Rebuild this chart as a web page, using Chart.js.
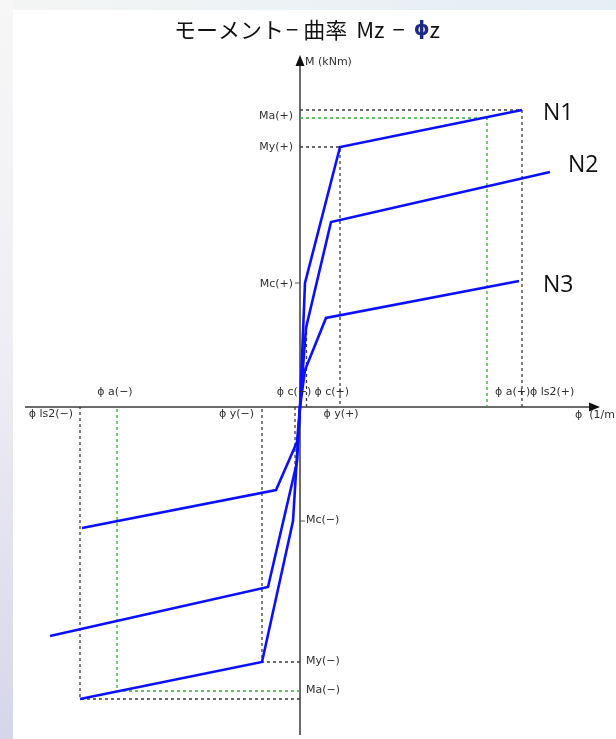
<!DOCTYPE html>
<html>
<head>
<meta charset="utf-8">
<script src="https://cdn.jsdelivr.net/npm/chart.js@4/dist/chart.umd.min.js"></script>
<style>
  html, body { margin: 0; padding: 0; background: #ffffff; overflow: hidden; }
  canvas { display: block; }
</style>
</head>
<body>
<canvas id="mphi" width="616" height="739"></canvas>
<script>
// Moment–curvature skeleton curves, curvature φ (×10⁻³ 1/m) against moment M (kNm)
const seriesNames = ['N1', 'N2', 'N3'];
const phiN1    = [-44.0, -7.6, -1.4, 0, 1.0, 8.0, 44.4];
const momentN1 = [-584, -510, -228, 0, 248, 520, 594];
const phiN2    = [-50.0, -6.4, -0.6, 0, 1.2, 6.2, 50.0];
const momentN2 = [-458, -360, -110, 0, 158, 370, 470];
const phiN3    = [-43.6, -4.8, -0.6, 0, 1.0, 5.2, 43.8];
const momentN3 = [-242, -166, -70, 0, 74, 178, 252];

// characteristic curvatures marked on the φ axis
const phiMarkNames  = ['ϕ ls2(−)', 'ϕ a(−)', 'ϕ y(−)', 'ϕ c(−)', 'ϕ c(+)', 'ϕ y(+)', 'ϕ a(+)', 'ϕ ls2(+)'];
const phiMarkValues = [-44.0, -36.6, -7.6, -1.0, 1.3, 8.0, 37.4, 44.4];

// characteristic moments marked on the M axis
const momentMarkNames  = ['Ma(+)', 'My(+)', 'Mc(+)', 'Mc(−)', 'My(−)', 'Ma(−)'];
const momentMarkValues = [578, 520, 248, -228, -510, -568];

// limit-state guide lines (ultimate: black, allowable: green)
const ultimatePosPhi = [0, 44.4, 44.4];   const ultimatePosM = [594, 594, 0];
const yieldPosPhi    = [0, 8.0, 8.0];     const yieldPosM    = [520, 520, 0];
const crackPosPhi    = [1.3, 1.3];        const crackPosM    = [0, 170];
const crackNegPhi    = [-1.0, -1.0];      const crackNegM    = [0, -126];
const yieldNegPhi    = [0, -7.6, -7.6];   const yieldNegM    = [-510, -510, 0];
const ultimateNegPhi = [0, -44.0, -44.0]; const ultimateNegM = [-584, -584, 0];
const allowPosPhi    = [0, 37.4, 37.4];   const allowPosM    = [578, 578, 0];
const allowNegPhi    = [0, -36.6, -36.6]; const allowNegM    = [-568, -568, 0];

const pairs = (xs, ys) => xs.map((x, i) => ({ x: x, y: ys[i] }));

const curveStyle = { showLine: true, pointRadius: 0, borderColor: '#0a10ff', borderWidth: 2.6, fill: false, tension: 0 };
const blackGuide = { showLine: true, pointRadius: 0, borderColor: '#3a3a3a', borderWidth: 1.3, borderDash: [3, 3], fill: false };
const greenGuide = { showLine: true, pointRadius: 0, borderColor: '#33aa33', borderWidth: 1.3, borderDash: [3, 3], fill: false };

const datasets = [
  Object.assign({ label: seriesNames[0], data: pairs(phiN1, momentN1) }, curveStyle),
  Object.assign({ label: seriesNames[1], data: pairs(phiN2, momentN2) }, curveStyle),
  Object.assign({ label: seriesNames[2], data: pairs(phiN3, momentN3) }, curveStyle),
  Object.assign({ label: 'ultimate+', data: pairs(ultimatePosPhi, ultimatePosM) }, blackGuide),
  Object.assign({ label: 'yield+', data: pairs(yieldPosPhi, yieldPosM) }, blackGuide),
  Object.assign({ label: 'crack+', data: pairs(crackPosPhi, crackPosM) }, blackGuide),
  Object.assign({ label: 'crack-', data: pairs(crackNegPhi, crackNegM) }, blackGuide),
  Object.assign({ label: 'yield-', data: pairs(yieldNegPhi, yieldNegM) }, blackGuide),
  Object.assign({ label: 'ultimate-', data: pairs(ultimateNegPhi, ultimateNegM) }, blackGuide),
  Object.assign({ label: 'allow+', data: pairs(allowPosPhi, allowPosM) }, greenGuide),
  Object.assign({ label: 'allow-', data: pairs(allowNegPhi, allowNegM) }, greenGuide)
];

const SMALL = '11px "DejaVu Sans"';
const TITLE_FONT = '22px "Noto Sans CJK JP"';
const PHI_FONT = 'bold 20px "DejaVu Sans"';

// placement of each φ mark label: side of the axis, alignment, horizontal nudge
const phiMarkPlacement = [
  { side: 'below', align: 'right',  dx: -7 },
  { side: 'above', align: 'center', dx: -2 },
  { side: 'below', align: 'right',  dx: -8 },
  { side: 'above', align: 'center', dx: -1 },
  { side: 'above', align: 'left',   dx: 8 },
  { side: 'below', align: 'center', dx: 1 },
  { side: 'above', align: 'left',   dx: 8 },
  { side: 'above', align: 'left',   dx: 8 }
];
// vertical nudges of the M mark labels
const momentMarkDy = [-2, 0, 1, -1, -1, -1];

// curve name labels offset from each curve's last point
const nameOffsets = [{ dx: 21, dy: 3 }, { dx: 18, dy: -7 }, { dx: 24, dy: 4 }];
const nameEnds = [
  { x: phiN1[phiN1.length - 1], y: momentN1[momentN1.length - 1] },
  { x: phiN2[phiN2.length - 1], y: momentN2[momentN2.length - 1] },
  { x: phiN3[phiN3.length - 1], y: momentN3[momentN3.length - 1] }
];

function text(ctx, str, x, y, align, font, color) {
  ctx.font = font;
  ctx.fillStyle = color || '#303030';
  ctx.textAlign = align;
  ctx.textBaseline = 'middle';
  ctx.fillText(str, x, y);
}

const diagram = {
  id: 'diagram',
  beforeDraw(chart) {
    const ctx = chart.ctx;
    const W = chart.width, H = chart.height;
    ctx.save();
    // slide backdrop behind the white drawing panel
    const top = ctx.createLinearGradient(0, 0, W, 0);
    top.addColorStop(0, '#f4f5f4');
    top.addColorStop(1, '#e4eef5');
    ctx.fillStyle = top;
    ctx.fillRect(0, 0, W, 10);
    const left = ctx.createLinearGradient(0, 0, 0, H);
    left.addColorStop(0, '#f7f7f7');
    left.addColorStop(0.5, '#eeedf3');
    left.addColorStop(1, '#d6d6ea');
    ctx.fillStyle = left;
    ctx.fillRect(0, 0, 13, H);
    ctx.fillStyle = '#ffffff';
    ctx.fillRect(13, 10, W - 13, H - 10);
    ctx.restore();
  },
  beforeDatasetsDraw(chart) {
    const ctx = chart.ctx;
    const xs = chart.scales.x, ys = chart.scales.y;
    const ox = xs.getPixelForValue(0), oy = ys.getPixelForValue(0);
    const xFrom = xs.getPixelForValue(-55), xTo = xs.getPixelForValue(60);
    const yTop = ys.getPixelForValue(704), yBottom = ys.getPixelForValue(-656);
    ctx.save();
    ctx.strokeStyle = '#6a6a6a';
    ctx.lineWidth = 2;
    ctx.beginPath();
    ctx.moveTo(xFrom, oy); ctx.lineTo(xTo - 8, oy);
    ctx.moveTo(ox, yBottom); ctx.lineTo(ox, yTop + 9);
    ctx.stroke();
    ctx.fillStyle = '#111111';
    ctx.beginPath();
    ctx.moveTo(xTo, oy); ctx.lineTo(xTo - 11, oy - 4.5); ctx.lineTo(xTo - 11, oy + 4.5); ctx.closePath();
    ctx.fill();
    ctx.beginPath();
    ctx.moveTo(ox, yTop); ctx.lineTo(ox - 4.5, yTop + 11); ctx.lineTo(ox + 4.5, yTop + 11); ctx.closePath();
    ctx.fill();
    // small ticks at the cracking moments
    ctx.strokeStyle = '#555555';
    ctx.lineWidth = 1;
    ctx.beginPath();
    const mcp = ys.getPixelForValue(momentMarkValues[2]);
    ctx.moveTo(ox - 5, mcp); ctx.lineTo(ox, mcp);
    const mcn = ys.getPixelForValue(momentMarkValues[3]);
    ctx.moveTo(ox, mcn); ctx.lineTo(ox + 5, mcn);
    ctx.stroke();
    ctx.restore();
  },
  afterDatasetsDraw(chart) {
    const ctx = chart.ctx;
    const xs = chart.scales.x, ys = chart.scales.y;
    const ox = xs.getPixelForValue(0), oy = ys.getPixelForValue(0);
    ctx.save();

    // title, with the curvature symbol in bold blue
    const parts = [
      { s: 'モーメント', f: TITLE_FONT, c: '#111111', gap: 2 },
      { s: '−', f: TITLE_FONT, c: '#111111', gap: 5 },
      { s: '曲率', f: TITLE_FONT, c: '#111111', gap: 9 },
      { s: 'Mz', f: TITLE_FONT, c: '#111111', gap: 8 },
      { s: '−', f: TITLE_FONT, c: '#111111', gap: 9 },
      { s: 'ϕ', f: PHI_FONT, c: '#1c2a86', gap: 0 },
      { s: 'z', f: TITLE_FONT, c: '#111111', gap: 0 }
    ];
    let total = 0;
    parts.forEach(p => { ctx.font = p.f; p.w = ctx.measureText(p.s).width; total += p.w + p.gap; });
    let tx = 307 - total / 2;
    parts.forEach(p => {
      text(ctx, p.s, tx, 30, 'left', p.f, p.c);
      tx += p.w + p.gap;
    });

    // axis titles
    text(ctx, 'M (kNm)', ox + 5, 62, 'left', SMALL);
    text(ctx, 'ϕ  (1/m)', xs.getPixelForValue(55), oy + 8, 'left', SMALL);

    // curvature marks
    phiMarkNames.forEach((name, i) => {
      const p = phiMarkPlacement[i];
      const px = xs.getPixelForValue(phiMarkValues[i]) + p.dx;
      const py = p.side === 'above' ? oy - 15 : oy + 7;
      text(ctx, name, px, py, p.align, SMALL);
    });

    // moment marks
    momentMarkNames.forEach((name, i) => {
      const py = ys.getPixelForValue(momentMarkValues[i]) + momentMarkDy[i];
      if (momentMarkValues[i] > 0) text(ctx, name, ox - 7, py, 'right', SMALL);
      else text(ctx, name, ox + 6, py, 'left', SMALL);
    });

    // curve names
    seriesNames.forEach((name, i) => {
      const px = xs.getPixelForValue(nameEnds[i].x) + nameOffsets[i].dx;
      const py = ys.getPixelForValue(nameEnds[i].y) + nameOffsets[i].dy;
      text(ctx, name, px, py, 'left', '23px "Open Sans"', '#111111');
    });
    ctx.restore();
  }
};

new Chart(document.getElementById('mphi'), {
  type: 'scatter',
  data: { datasets: datasets },
  options: {
    responsive: false,
    animation: false,
    layout: { padding: 0 },
    plugins: { legend: { display: false }, tooltip: { enabled: false }, title: { display: false } },
    scales: {
      x: { type: 'linear', min: -60, max: 63.2, display: false },
      y: { type: 'linear', min: -664, max: 814, display: false }
    }
  },
  plugins: [diagram]
});
</script>
</body>
</html>
